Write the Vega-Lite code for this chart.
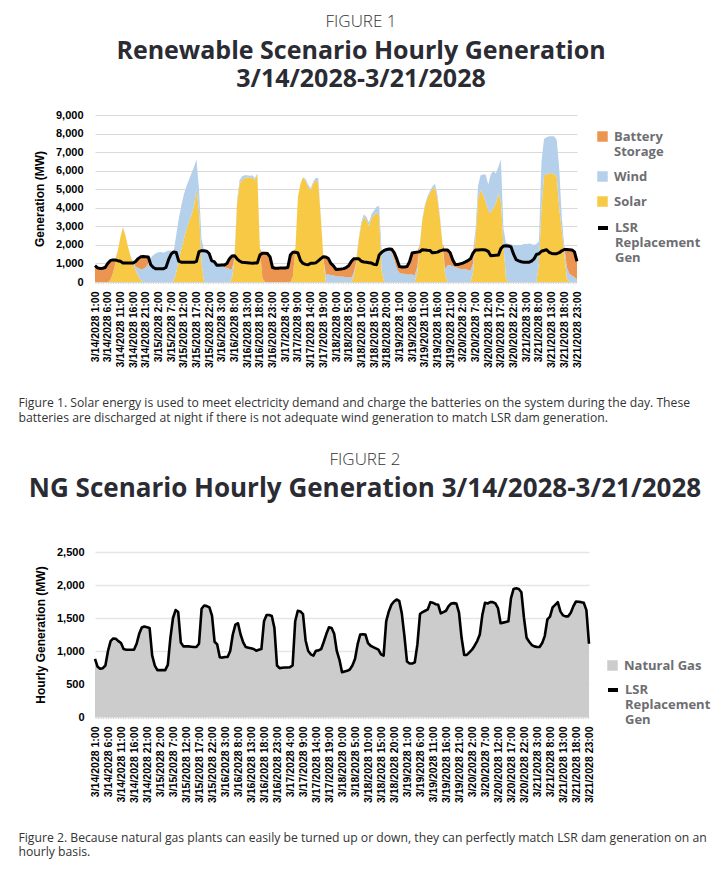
{
  "$schema": "https://vega.github.io/schema/vega-lite/v6.json",
  "background": "white",
  "padding": {"left": 18, "top": 13, "right": 5, "bottom": 5},
  "config": {"view": {"stroke": null}, "font": "Lato"},
  "datasets": {
    "order": [{"source": "solar", "rank": 1}, {"source": "wind", "rank": 2}, {"source": "battery", "rank": 3}],
    "gen": [
      {"t":"3/14/2028 1:00","solar":0,"wind":0,"battery":880,"lsr":880},
      {"t":"3/14/2028 2:00","solar":0,"wind":0,"battery":760,"lsr":760},
      {"t":"3/14/2028 3:00","solar":0,"wind":0,"battery":730,"lsr":730},
      {"t":"3/14/2028 4:00","solar":0,"wind":0,"battery":740,"lsr":740},
      {"t":"3/14/2028 5:00","solar":0,"wind":0,"battery":780,"lsr":780},
      {"t":"3/14/2028 6:00","solar":0,"wind":0,"battery":1000,"lsr":1000},
      {"t":"3/14/2028 7:00","solar":100,"wind":0,"battery":1050,"lsr":1150},
      {"t":"3/14/2028 8:00","solar":450,"wind":0,"battery":740,"lsr":1190},
      {"t":"3/14/2028 9:00","solar":1000,"wind":0,"battery":185,"lsr":1185},
      {"t":"3/14/2028 10:00","solar":1700,"wind":0,"battery":0,"lsr":1150},
      {"t":"3/14/2028 11:00","solar":2400,"wind":0,"battery":0,"lsr":1120},
      {"t":"3/14/2028 12:00","solar":2950,"wind":0,"battery":0,"lsr":1030},
      {"t":"3/14/2028 13:00","solar":2500,"wind":0,"battery":0,"lsr":1020},
      {"t":"3/14/2028 14:00","solar":1900,"wind":0,"battery":0,"lsr":1020},
      {"t":"3/14/2028 15:00","solar":1400,"wind":0,"battery":0,"lsr":1020},
      {"t":"3/14/2028 16:00","solar":1000,"wind":100,"battery":0,"lsr":1020},
      {"t":"3/14/2028 17:00","solar":650,"wind":200,"battery":260,"lsr":1110},
      {"t":"3/14/2028 18:00","solar":350,"wind":400,"battery":510,"lsr":1260},
      {"t":"3/14/2028 19:00","solar":100,"wind":600,"battery":655,"lsr":1355},
      {"t":"3/14/2028 20:00","solar":0,"wind":700,"battery":670,"lsr":1370},
      {"t":"3/14/2028 21:00","solar":0,"wind":800,"battery":560,"lsr":1360},
      {"t":"3/14/2028 22:00","solar":0,"wind":1000,"battery":350,"lsr":1350},
      {"t":"3/14/2028 23:00","solar":0,"wind":1300,"battery":0,"lsr":930},
      {"t":"3/15/2028 0:00","solar":0,"wind":1450,"battery":0,"lsr":780},
      {"t":"3/15/2028 1:00","solar":0,"wind":1550,"battery":0,"lsr":710},
      {"t":"3/15/2028 2:00","solar":0,"wind":1600,"battery":0,"lsr":710},
      {"t":"3/15/2028 3:00","solar":0,"wind":1620,"battery":0,"lsr":710},
      {"t":"3/15/2028 4:00","solar":0,"wind":1580,"battery":0,"lsr":710},
      {"t":"3/15/2028 5:00","solar":0,"wind":1650,"battery":0,"lsr":790},
      {"t":"3/15/2028 6:00","solar":0,"wind":1700,"battery":0,"lsr":1200},
      {"t":"3/15/2028 7:00","solar":0,"wind":1700,"battery":0,"lsr":1500},
      {"t":"3/15/2028 8:00","solar":50,"wind":1550,"battery":20,"lsr":1620},
      {"t":"3/15/2028 9:00","solar":500,"wind":2000,"battery":0,"lsr":1590},
      {"t":"3/15/2028 10:00","solar":1200,"wind":2200,"battery":0,"lsr":1130},
      {"t":"3/15/2028 11:00","solar":1750,"wind":2350,"battery":0,"lsr":1070},
      {"t":"3/15/2028 12:00","solar":2300,"wind":2400,"battery":0,"lsr":1070},
      {"t":"3/15/2028 13:00","solar":2800,"wind":2350,"battery":0,"lsr":1070},
      {"t":"3/15/2028 14:00","solar":3250,"wind":2250,"battery":0,"lsr":1065},
      {"t":"3/15/2028 15:00","solar":3600,"wind":2250,"battery":0,"lsr":1060},
      {"t":"3/15/2028 16:00","solar":4050,"wind":2150,"battery":0,"lsr":1060},
      {"t":"3/15/2028 17:00","solar":5000,"wind":1600,"battery":0,"lsr":1110},
      {"t":"3/15/2028 18:00","solar":3800,"wind":1200,"battery":0,"lsr":1640},
      {"t":"3/15/2028 19:00","solar":1000,"wind":1300,"battery":0,"lsr":1690},
      {"t":"3/15/2028 20:00","solar":0,"wind":1700,"battery":0,"lsr":1680},
      {"t":"3/15/2028 21:00","solar":0,"wind":1660,"battery":0,"lsr":1660},
      {"t":"3/15/2028 22:00","solar":0,"wind":1540,"battery":0,"lsr":1535},
      {"t":"3/15/2028 23:00","solar":0,"wind":1150,"battery":0,"lsr":1140},
      {"t":"3/16/2028 0:00","solar":0,"wind":1100,"battery":0,"lsr":1100},
      {"t":"3/16/2028 1:00","solar":0,"wind":910,"battery":0,"lsr":905},
      {"t":"3/16/2028 2:00","solar":0,"wind":900,"battery":0,"lsr":900},
      {"t":"3/16/2028 3:00","solar":0,"wind":910,"battery":0,"lsr":910},
      {"t":"3/16/2028 4:00","solar":0,"wind":800,"battery":110,"lsr":910},
      {"t":"3/16/2028 5:00","solar":0,"wind":750,"battery":250,"lsr":1000},
      {"t":"3/16/2028 6:00","solar":0,"wind":700,"battery":550,"lsr":1250},
      {"t":"3/16/2028 7:00","solar":200,"wind":500,"battery":700,"lsr":1400},
      {"t":"3/16/2028 8:00","solar":1200,"wind":100,"battery":120,"lsr":1420},
      {"t":"3/16/2028 9:00","solar":4200,"wind":200,"battery":0,"lsr":1250},
      {"t":"3/16/2028 10:00","solar":5300,"wind":200,"battery":0,"lsr":1130},
      {"t":"3/16/2028 11:00","solar":5500,"wind":200,"battery":0,"lsr":1060},
      {"t":"3/16/2028 12:00","solar":5600,"wind":150,"battery":0,"lsr":1050},
      {"t":"3/16/2028 13:00","solar":5650,"wind":100,"battery":0,"lsr":1040},
      {"t":"3/16/2028 14:00","solar":5600,"wind":120,"battery":0,"lsr":1030},
      {"t":"3/16/2028 15:00","solar":5650,"wind":100,"battery":0,"lsr":1005},
      {"t":"3/16/2028 16:00","solar":5500,"wind":100,"battery":0,"lsr":1020},
      {"t":"3/16/2028 17:00","solar":5800,"wind":50,"battery":0,"lsr":1030},
      {"t":"3/16/2028 18:00","solar":1800,"wind":0,"battery":0,"lsr":1450},
      {"t":"3/16/2028 19:00","solar":200,"wind":0,"battery":1345,"lsr":1545},
      {"t":"3/16/2028 20:00","solar":0,"wind":0,"battery":1545,"lsr":1545},
      {"t":"3/16/2028 21:00","solar":0,"wind":0,"battery":1530,"lsr":1530},
      {"t":"3/16/2028 22:00","solar":0,"wind":0,"battery":1350,"lsr":1350},
      {"t":"3/16/2028 23:00","solar":0,"wind":0,"battery":780,"lsr":780},
      {"t":"3/17/2028 0:00","solar":0,"wind":0,"battery":740,"lsr":740},
      {"t":"3/17/2028 1:00","solar":0,"wind":0,"battery":745,"lsr":745},
      {"t":"3/17/2028 2:00","solar":0,"wind":0,"battery":750,"lsr":750},
      {"t":"3/17/2028 3:00","solar":0,"wind":0,"battery":750,"lsr":750},
      {"t":"3/17/2028 4:00","solar":0,"wind":0,"battery":755,"lsr":755},
      {"t":"3/17/2028 5:00","solar":0,"wind":0,"battery":780,"lsr":780},
      {"t":"3/17/2028 6:00","solar":0,"wind":0,"battery":1450,"lsr":1450},
      {"t":"3/17/2028 7:00","solar":300,"wind":0,"battery":1310,"lsr":1610},
      {"t":"3/17/2028 8:00","solar":1800,"wind":0,"battery":0,"lsr":1600},
      {"t":"3/17/2028 9:00","solar":4600,"wind":0,"battery":0,"lsr":1560},
      {"t":"3/17/2028 10:00","solar":5300,"wind":0,"battery":0,"lsr":1160},
      {"t":"3/17/2028 11:00","solar":5650,"wind":0,"battery":0,"lsr":1000},
      {"t":"3/17/2028 12:00","solar":5450,"wind":100,"battery":0,"lsr":950},
      {"t":"3/17/2028 13:00","solar":5150,"wind":100,"battery":0,"lsr":930},
      {"t":"3/17/2028 14:00","solar":4950,"wind":100,"battery":0,"lsr":1005},
      {"t":"3/17/2028 15:00","solar":5300,"wind":100,"battery":0,"lsr":1010},
      {"t":"3/17/2028 16:00","solar":5450,"wind":150,"battery":0,"lsr":1030},
      {"t":"3/17/2028 17:00","solar":5400,"wind":200,"battery":0,"lsr":1140},
      {"t":"3/17/2028 18:00","solar":3500,"wind":100,"battery":0,"lsr":1260},
      {"t":"3/17/2028 19:00","solar":1300,"wind":0,"battery":60,"lsr":1360},
      {"t":"3/17/2028 20:00","solar":0,"wind":400,"battery":950,"lsr":1350},
      {"t":"3/17/2028 21:00","solar":0,"wind":400,"battery":860,"lsr":1260},
      {"t":"3/17/2028 22:00","solar":0,"wind":380,"battery":620,"lsr":1000},
      {"t":"3/17/2028 23:00","solar":0,"wind":350,"battery":520,"lsr":870},
      {"t":"3/18/2028 0:00","solar":0,"wind":330,"battery":350,"lsr":680},
      {"t":"3/18/2028 1:00","solar":0,"wind":300,"battery":390,"lsr":690},
      {"t":"3/18/2028 2:00","solar":0,"wind":300,"battery":400,"lsr":700},
      {"t":"3/18/2028 3:00","solar":0,"wind":280,"battery":440,"lsr":720},
      {"t":"3/18/2028 4:00","solar":0,"wind":260,"battery":520,"lsr":780},
      {"t":"3/18/2028 5:00","solar":0,"wind":250,"battery":630,"lsr":880},
      {"t":"3/18/2028 6:00","solar":0,"wind":230,"battery":870,"lsr":1100},
      {"t":"3/18/2028 7:00","solar":300,"wind":200,"battery":750,"lsr":1250},
      {"t":"3/18/2028 8:00","solar":1000,"wind":100,"battery":155,"lsr":1255},
      {"t":"3/18/2028 9:00","solar":2300,"wind":100,"battery":0,"lsr":1250},
      {"t":"3/18/2028 10:00","solar":3100,"wind":150,"battery":0,"lsr":1120},
      {"t":"3/18/2028 11:00","solar":3500,"wind":150,"battery":0,"lsr":1080},
      {"t":"3/18/2028 12:00","solar":3350,"wind":150,"battery":0,"lsr":1060},
      {"t":"3/18/2028 13:00","solar":3000,"wind":200,"battery":0,"lsr":1040},
      {"t":"3/18/2028 14:00","solar":3450,"wind":200,"battery":0,"lsr":1020},
      {"t":"3/18/2028 15:00","solar":3600,"wind":250,"battery":0,"lsr":950},
      {"t":"3/18/2028 16:00","solar":3750,"wind":300,"battery":0,"lsr":930},
      {"t":"3/18/2028 17:00","solar":3600,"wind":500,"battery":0,"lsr":1450},
      {"t":"3/18/2028 18:00","solar":600,"wind":1000,"battery":0,"lsr":1600},
      {"t":"3/18/2028 19:00","solar":0,"wind":1700,"battery":0,"lsr":1700},
      {"t":"3/18/2028 20:00","solar":0,"wind":1750,"battery":0,"lsr":1750},
      {"t":"3/18/2028 21:00","solar":0,"wind":1780,"battery":0,"lsr":1780},
      {"t":"3/18/2028 22:00","solar":0,"wind":1600,"battery":160,"lsr":1760},
      {"t":"3/18/2028 23:00","solar":0,"wind":1200,"battery":370,"lsr":1570},
      {"t":"3/19/2028 0:00","solar":0,"wind":700,"battery":530,"lsr":1230},
      {"t":"3/19/2028 1:00","solar":0,"wind":500,"battery":340,"lsr":840},
      {"t":"3/19/2028 2:00","solar":0,"wind":450,"battery":360,"lsr":810},
      {"t":"3/19/2028 3:00","solar":0,"wind":450,"battery":360,"lsr":810},
      {"t":"3/19/2028 4:00","solar":0,"wind":400,"battery":430,"lsr":830},
      {"t":"3/19/2028 5:00","solar":0,"wind":400,"battery":700,"lsr":1100},
      {"t":"3/19/2028 6:00","solar":0,"wind":400,"battery":1160,"lsr":1560},
      {"t":"3/19/2028 7:00","solar":0,"wind":350,"battery":1240,"lsr":1590},
      {"t":"3/19/2028 8:00","solar":500,"wind":300,"battery":810,"lsr":1610},
      {"t":"3/19/2028 9:00","solar":1900,"wind":100,"battery":0,"lsr":1630},
      {"t":"3/19/2028 10:00","solar":3300,"wind":100,"battery":0,"lsr":1740},
      {"t":"3/19/2028 11:00","solar":4050,"wind":100,"battery":0,"lsr":1730},
      {"t":"3/19/2028 12:00","solar":4500,"wind":100,"battery":0,"lsr":1710},
      {"t":"3/19/2028 13:00","solar":4800,"wind":100,"battery":0,"lsr":1700},
      {"t":"3/19/2028 14:00","solar":5000,"wind":150,"battery":0,"lsr":1570},
      {"t":"3/19/2028 15:00","solar":5100,"wind":200,"battery":0,"lsr":1590},
      {"t":"3/19/2028 16:00","solar":4500,"wind":200,"battery":0,"lsr":1610},
      {"t":"3/19/2028 17:00","solar":3400,"wind":100,"battery":0,"lsr":1680},
      {"t":"3/19/2028 18:00","solar":2000,"wind":50,"battery":0,"lsr":1720},
      {"t":"3/19/2028 19:00","solar":400,"wind":300,"battery":1025,"lsr":1725},
      {"t":"3/19/2028 20:00","solar":0,"wind":900,"battery":820,"lsr":1720},
      {"t":"3/19/2028 21:00","solar":0,"wind":900,"battery":680,"lsr":1580},
      {"t":"3/19/2028 22:00","solar":0,"wind":850,"battery":350,"lsr":1200},
      {"t":"3/19/2028 23:00","solar":0,"wind":800,"battery":140,"lsr":940},
      {"t":"3/20/2028 0:00","solar":0,"wind":750,"battery":190,"lsr":940},
      {"t":"3/20/2028 1:00","solar":0,"wind":700,"battery":280,"lsr":980},
      {"t":"3/20/2028 2:00","solar":0,"wind":700,"battery":320,"lsr":1020},
      {"t":"3/20/2028 3:00","solar":0,"wind":700,"battery":380,"lsr":1080},
      {"t":"3/20/2028 4:00","solar":0,"wind":650,"battery":500,"lsr":1150},
      {"t":"3/20/2028 5:00","solar":0,"wind":600,"battery":650,"lsr":1250},
      {"t":"3/20/2028 6:00","solar":500,"wind":500,"battery":550,"lsr":1550},
      {"t":"3/20/2028 7:00","solar":2300,"wind":500,"battery":0,"lsr":1730},
      {"t":"3/20/2028 8:00","solar":4500,"wind":700,"battery":0,"lsr":1720},
      {"t":"3/20/2028 9:00","solar":4950,"wind":800,"battery":0,"lsr":1740},
      {"t":"3/20/2028 10:00","solar":4700,"wind":1100,"battery":0,"lsr":1740},
      {"t":"3/20/2028 11:00","solar":4300,"wind":1500,"battery":0,"lsr":1720},
      {"t":"3/20/2028 12:00","solar":3850,"wind":1400,"battery":0,"lsr":1650},
      {"t":"3/20/2028 13:00","solar":3700,"wind":2100,"battery":0,"lsr":1420},
      {"t":"3/20/2028 14:00","solar":4000,"wind":2000,"battery":0,"lsr":1430},
      {"t":"3/20/2028 15:00","solar":4200,"wind":1650,"battery":0,"lsr":1440},
      {"t":"3/20/2028 16:00","solar":4800,"wind":1400,"battery":0,"lsr":1450},
      {"t":"3/20/2028 17:00","solar":4300,"wind":2300,"battery":0,"lsr":1800},
      {"t":"3/20/2028 18:00","solar":2000,"wind":900,"battery":0,"lsr":1940},
      {"t":"3/20/2028 19:00","solar":200,"wind":1900,"battery":0,"lsr":1950},
      {"t":"3/20/2028 20:00","solar":0,"wind":2050,"battery":0,"lsr":1940},
      {"t":"3/20/2028 21:00","solar":0,"wind":2030,"battery":0,"lsr":1890},
      {"t":"3/20/2028 22:00","solar":0,"wind":2000,"battery":0,"lsr":1500},
      {"t":"3/20/2028 23:00","solar":0,"wind":2000,"battery":0,"lsr":1200},
      {"t":"3/21/2028 0:00","solar":0,"wind":2000,"battery":0,"lsr":1140},
      {"t":"3/21/2028 1:00","solar":0,"wind":2000,"battery":0,"lsr":1090},
      {"t":"3/21/2028 2:00","solar":0,"wind":2050,"battery":0,"lsr":1070},
      {"t":"3/21/2028 3:00","solar":0,"wind":2050,"battery":0,"lsr":1060},
      {"t":"3/21/2028 4:00","solar":0,"wind":2080,"battery":0,"lsr":1060},
      {"t":"3/21/2028 5:00","solar":0,"wind":2050,"battery":0,"lsr":1120},
      {"t":"3/21/2028 6:00","solar":0,"wind":2000,"battery":0,"lsr":1230},
      {"t":"3/21/2028 7:00","solar":0,"wind":2050,"battery":0,"lsr":1480},
      {"t":"3/21/2028 8:00","solar":1000,"wind":1200,"battery":0,"lsr":1520},
      {"t":"3/21/2028 9:00","solar":4000,"wind":2500,"battery":0,"lsr":1660},
      {"t":"3/21/2028 10:00","solar":5750,"wind":1950,"battery":0,"lsr":1700},
      {"t":"3/21/2028 11:00","solar":5800,"wind":2000,"battery":0,"lsr":1740},
      {"t":"3/21/2028 12:00","solar":5850,"wind":2000,"battery":0,"lsr":1600},
      {"t":"3/21/2028 13:00","solar":5870,"wind":1980,"battery":0,"lsr":1540},
      {"t":"3/21/2028 14:00","solar":5800,"wind":2050,"battery":0,"lsr":1525},
      {"t":"3/21/2028 15:00","solar":5700,"wind":1950,"battery":0,"lsr":1525},
      {"t":"3/21/2028 16:00","solar":4000,"wind":2100,"battery":0,"lsr":1580},
      {"t":"3/21/2028 17:00","solar":2800,"wind":700,"battery":0,"lsr":1680},
      {"t":"3/21/2028 18:00","solar":1500,"wind":400,"battery":0,"lsr":1750},
      {"t":"3/21/2028 19:00","solar":200,"wind":580,"battery":965,"lsr":1745},
      {"t":"3/21/2028 20:00","solar":0,"wind":450,"battery":1290,"lsr":1740},
      {"t":"3/21/2028 21:00","solar":0,"wind":350,"battery":1380,"lsr":1730},
      {"t":"3/21/2028 22:00","solar":0,"wind":250,"battery":1370,"lsr":1620},
      {"t":"3/21/2028 23:00","solar":0,"wind":150,"battery":960,"lsr":1110}
    ]
  },
  "spacing": 27,
  "resolve": {
    "scale": {"x": "independent", "y": "independent", "color": "independent", "stroke": "independent"},
    "legend": {"color": "independent", "stroke": "independent"}
  },
  "vconcat": [
    {
      "title": {
        "text": "FIGURE 1",
        "subtitle": ["Renewable Scenario Hourly Generation", "3/14/2028-3/21/2028"],
        "anchor": "middle", "dx": 25, "offset": 16,
        "font": "Open Sans", "fontSize": 17, "fontWeight": 300, "color": "#333333",
        "subtitleFont": "Open Sans", "subtitleFontSize": 25, "subtitleFontWeight": "bold",
        "subtitleColor": "#2b2b33", "subtitleLineHeight": 28, "subtitlePadding": 8
      },
      "width": 482,
      "height": 167,
      "data": {"name": "gen"},
      "encoding": {
        "x": {
          "field": "t", "type": "ordinal", "sort": null,
          "scale": {"type": "point", "padding": 0},
          "axis": {
            "values": ["3/14/2028 1:00","3/14/2028 6:00","3/14/2028 11:00","3/14/2028 16:00","3/14/2028 21:00","3/15/2028 2:00","3/15/2028 7:00","3/15/2028 12:00","3/15/2028 17:00","3/15/2028 22:00","3/16/2028 3:00","3/16/2028 8:00","3/16/2028 13:00","3/16/2028 18:00","3/16/2028 23:00","3/17/2028 4:00","3/17/2028 9:00","3/17/2028 14:00","3/17/2028 19:00","3/18/2028 0:00","3/18/2028 5:00","3/18/2028 10:00","3/18/2028 15:00","3/18/2028 20:00","3/19/2028 1:00","3/19/2028 6:00","3/19/2028 11:00","3/19/2028 16:00","3/19/2028 21:00","3/20/2028 2:00","3/20/2028 7:00","3/20/2028 12:00","3/20/2028 17:00","3/20/2028 22:00","3/21/2028 3:00","3/21/2028 8:00","3/21/2028 13:00","3/21/2028 18:00","3/21/2028 23:00"],
            "labelAngle": -90, "labelAlign": "right", "labelBaseline": "middle",
            "labelFont": "Liberation Sans", "labelFontSize": 10.5, "labelFontWeight": "bold", "labelColor": "#000000",
            "labelPadding": 9, "labelOverlap": false, "ticks": false, "grid": false,
            "domain": true, "domainColor": "#d4d4d4", "domainWidth": 3, "domainDash": [1, 1.5],
            "title": ["Figure 1. Solar energy is used to meet electricity demand and charge the batteries on the system during the day. These", "batteries are discharged at night if there is not adequate wind generation to match LSR dam generation."],
            "titleFont": "Open Sans", "titleFontSize": 12.2, "titleFontWeight": "normal", "titleColor": "#333333",
            "titleAnchor": "start", "titleAlign": "left", "titleBaseline": "top",
            "titleX": -77, "titleY": 114, "titleLineHeight": 15
          }
        }
      },
      "layer": [
        {
          "transform": [
            {"fold": ["solar", "wind", "battery"], "as": ["source", "mw"]},
            {"lookup": "source", "from": {"data": {"name": "order"}, "key": "source", "fields": ["rank"]}}
          ],
          "mark": {"type": "area", "interpolate": "linear"},
          "encoding": {
            "y": {
              "field": "mw", "type": "quantitative", "stack": "zero",
              "scale": {"domain": [0, 9000], "nice": false},
              "axis": {
                "values": [0, 1000, 2000, 3000, 4000, 5000, 6000, 7000, 8000, 9000],
                "labelOverlap": false,
                "title": "Generation (MW)", "titleFont": "Liberation Sans", "titleFontSize": 12, "titleFontWeight": "bold", "titleColor": "#000000", "titlePadding": 9,
                "labelFont": "Liberation Sans", "labelFontSize": 11, "labelFontWeight": "bold", "labelColor": "#000000", "labelPadding": 12,
                "ticks": false, "domain": false, "grid": true, "gridColor": "#dadada", "gridWidth": 1
              }
            },
            "order": {"field": "rank", "type": "quantitative"},
            "color": {
              "field": "source", "type": "nominal",
              "scale": {"domain": ["battery", "wind", "solar"], "range": ["#EC9551", "#B5D0EA", "#F7C944"]},
              "legend": {
                "orient": "none", "legendX": 501, "legendY": 15, "title": null,
                "symbolType": "square", "symbolSize": 110, "symbolStrokeWidth": 0,
                "labelFont": "Open Sans", "labelFontSize": 13, "labelFontWeight": "bold", "labelColor": "#6d6e71",
                "labelOffset": 5, "rowPadding": 11, "labelLimit": 200,
                "labelExpr": "datum.label == 'battery' ? ['Battery', 'Storage'] : datum.label == 'wind' ? 'Wind' : 'Solar'"
              }
            }
          }
        },
        {
          "mark": {"type": "line", "strokeWidth": 3, "strokeJoin": "round"},
          "encoding": {
            "y": {
              "field": "lsr", "type": "quantitative",
              "scale": {"domain": [0, 9000], "nice": false},
              "axis": {
                "values": [0, 1000, 2000, 3000, 4000, 5000, 6000, 7000, 8000, 9000],
                "labelOverlap": false,
                "title": "Generation (MW)", "titleFont": "Liberation Sans", "titleFontSize": 12, "titleFontWeight": "bold", "titleColor": "#000000", "titlePadding": 9,
                "labelFont": "Liberation Sans", "labelFontSize": 11, "labelFontWeight": "bold", "labelColor": "#000000", "labelPadding": 12,
                "ticks": false, "domain": false, "grid": true, "gridColor": "#dadada", "gridWidth": 1
              }
            },
            "stroke": {
              "datum": "LSR Replacement Gen", "type": "nominal",
              "scale": {"range": ["#000000"]},
              "legend": {
                "orient": "none", "legendX": 501, "legendY": 106, "title": null,
                "symbolType": "stroke", "symbolSize": 100, "symbolStrokeWidth": 4,
                "labelFont": "Open Sans", "labelFontSize": 13, "labelFontWeight": "bold", "labelColor": "#6d6e71",
                "labelOffset": 5, "labelLimit": 200,
                "labelExpr": "['LSR', 'Replacement', 'Gen']"
              }
            }
          }
        }
      ]
    },
    {
      "title": {
        "text": "FIGURE 2",
        "subtitle": "NG Scenario Hourly Generation 3/14/2028-3/21/2028",
        "anchor": "middle", "dx": 23, "offset": 43,
        "font": "Open Sans", "fontSize": 17, "fontWeight": 300, "color": "#333333",
        "subtitleFont": "Open Sans", "subtitleFontSize": 26, "subtitleFontWeight": "bold",
        "subtitleColor": "#2b2b33", "subtitleLineHeight": 29, "subtitlePadding": 7
      },
      "width": 494,
      "height": 165,
      "data": {"name": "gen"},
      "encoding": {
        "x": {
          "field": "t", "type": "ordinal", "sort": null,
          "scale": {"type": "point", "padding": 0},
          "axis": {
            "values": ["3/14/2028 1:00","3/14/2028 6:00","3/14/2028 11:00","3/14/2028 16:00","3/14/2028 21:00","3/15/2028 2:00","3/15/2028 7:00","3/15/2028 12:00","3/15/2028 17:00","3/15/2028 22:00","3/16/2028 3:00","3/16/2028 8:00","3/16/2028 13:00","3/16/2028 18:00","3/16/2028 23:00","3/17/2028 4:00","3/17/2028 9:00","3/17/2028 14:00","3/17/2028 19:00","3/18/2028 0:00","3/18/2028 5:00","3/18/2028 10:00","3/18/2028 15:00","3/18/2028 20:00","3/19/2028 1:00","3/19/2028 6:00","3/19/2028 11:00","3/19/2028 16:00","3/19/2028 21:00","3/20/2028 2:00","3/20/2028 7:00","3/20/2028 12:00","3/20/2028 17:00","3/20/2028 22:00","3/21/2028 3:00","3/21/2028 8:00","3/21/2028 13:00","3/21/2028 18:00","3/21/2028 23:00"],
            "labelAngle": -90, "labelAlign": "right", "labelBaseline": "middle",
            "labelFont": "Liberation Sans", "labelFontSize": 10.5, "labelFontWeight": "bold", "labelColor": "#000000",
            "labelPadding": 9, "labelOverlap": false, "ticks": false, "grid": false,
            "domain": true, "domainColor": "#d4d4d4", "domainWidth": 3, "domainDash": [1, 1.5],
            "title": ["Figure 2. Because natural gas plants can easily be turned up or down, they can perfectly match LSR dam generation on an", "hourly basis."],
            "titleFont": "Open Sans", "titleFontSize": 12.2, "titleFontWeight": "normal", "titleColor": "#333333",
            "titleAnchor": "start", "titleAlign": "left", "titleBaseline": "top",
            "titleX": -77, "titleY": 114, "titleLineHeight": 14.5
          }
        },
        "y": {
          "field": "lsr", "type": "quantitative",
          "scale": {"domain": [0, 2500], "nice": false},
          "axis": {
            "values": [0, 500, 1000, 1500, 2000, 2500],
            "labelOverlap": false,
            "title": "Hourly Generation (MW)", "titleFont": "Liberation Sans", "titleFontSize": 12, "titleFontWeight": "bold", "titleColor": "#000000", "titlePadding": 9,
            "labelFont": "Liberation Sans", "labelFontSize": 11, "labelFontWeight": "bold", "labelColor": "#000000", "labelPadding": 11,
            "ticks": false, "domain": false, "grid": true, "gridColor": "#e6e6e6", "gridWidth": 1.5
          }
        }
      },
      "layer": [
        {
          "mark": {"type": "area", "interpolate": "linear"},
          "encoding": {
            "color": {
              "datum": "Natural Gas", "type": "nominal",
              "scale": {"range": ["#CCCCCC"]},
              "legend": {
                "orient": "none", "legendX": 511, "legendY": 107, "title": null,
                "symbolType": "square", "symbolSize": 110, "symbolStrokeWidth": 0,
                "labelFont": "Open Sans", "labelFontSize": 13, "labelFontWeight": "bold", "labelColor": "#6d6e71",
                "labelOffset": 5, "labelLimit": 200
              }
            }
          }
        },
        {
          "mark": {"type": "line", "strokeWidth": 2.6, "strokeJoin": "round"},
          "encoding": {
            "stroke": {
              "datum": "LSR Replacement Gen", "type": "nominal",
              "scale": {"range": ["#000000"]},
              "legend": {
                "orient": "none", "legendX": 511, "legendY": 131, "title": null,
                "symbolType": "stroke", "symbolSize": 100, "symbolStrokeWidth": 4,
                "labelFont": "Open Sans", "labelFontSize": 13, "labelFontWeight": "bold", "labelColor": "#6d6e71",
                "labelOffset": 5, "labelLimit": 200,
                "labelExpr": "['LSR', 'Replacement', 'Gen']"
              }
            }
          }
        }
      ]
    }
  ]
}
